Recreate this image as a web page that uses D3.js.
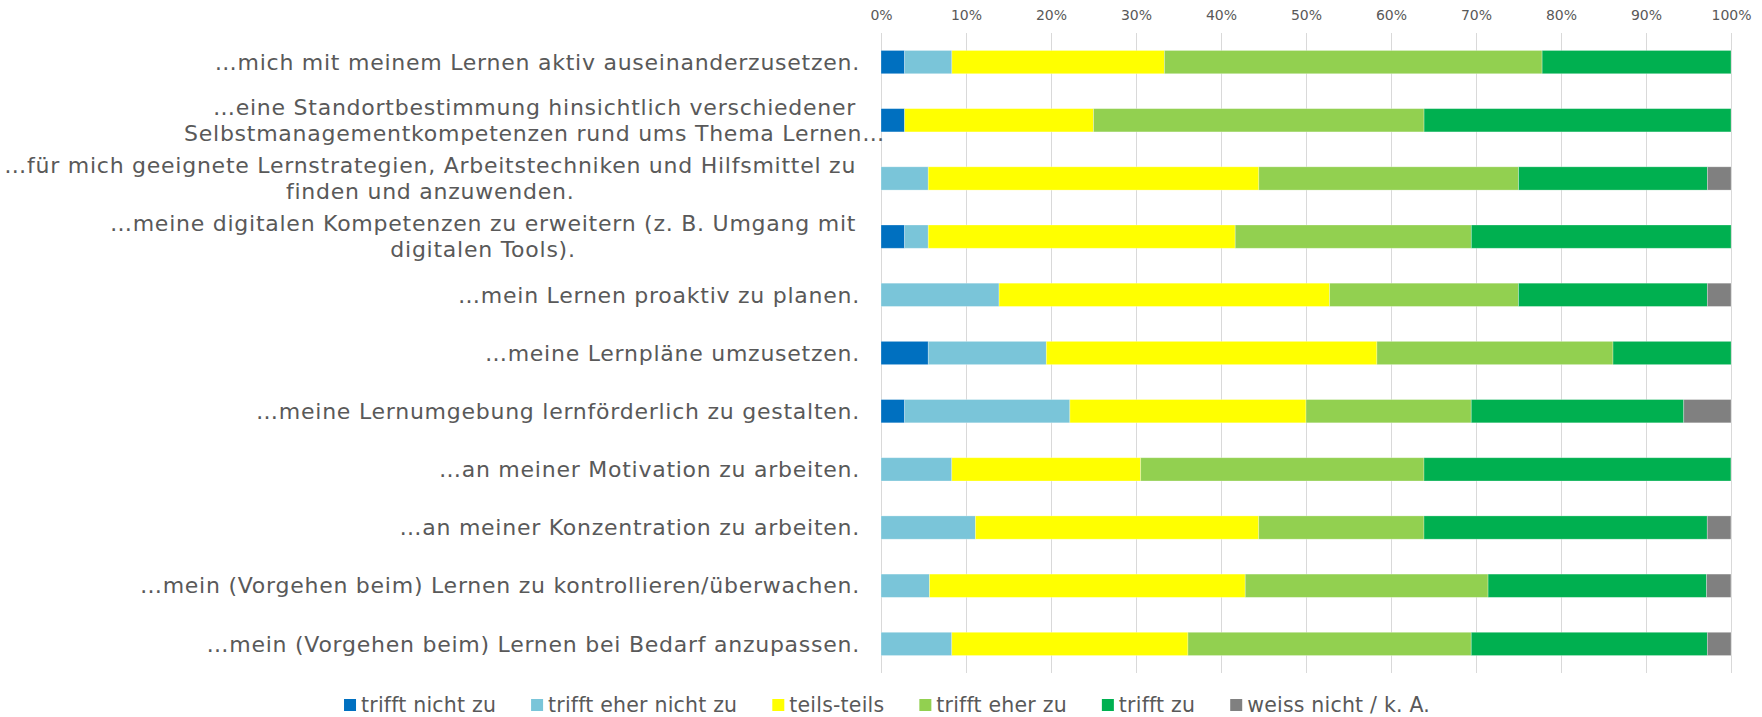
<!DOCTYPE html>
<html><head><meta charset="utf-8">
<script src="https://cdn.jsdelivr.net/npm/d3@7"></script>
<style>
html,body{margin:0;padding:0;background:#fff;}
svg{display:block;font-family:"DejaVu Sans",Verdana,sans-serif;}
</style></head>
<body>
<svg id="chart" width="1762" height="717"></svg>
<script>
const categories = [
  ["…mich mit meinem Lernen aktiv auseinanderzusetzen."],
  ["…eine Standortbestimmung hinsichtlich verschiedener", "Selbstmanagementkompetenzen rund ums Thema Lernen…"],
  ["…für mich geeignete Lernstrategien, Arbeitstechniken und Hilfsmittel zu", "finden und anzuwenden."],
  ["…meine digitalen Kompetenzen zu erweitern (z. B. Umgang mit", "digitalen Tools)."],
  ["…mein Lernen proaktiv zu planen."],
  ["…meine Lernpläne umzusetzen."],
  ["…meine Lernumgebung lernförderlich zu gestalten."],
  ["…an meiner Motivation zu arbeiten."],
  ["…an meiner Konzentration zu arbeiten."],
  ["…mein (Vorgehen beim) Lernen zu kontrollieren/überwachen."],
  ["…mein (Vorgehen beim) Lernen bei Bedarf anzupassen."]
];
const seriesNames = ["trifft nicht zu", "trifft eher nicht zu", "teils-teils", "trifft eher zu", "trifft zu", "weiss nicht / k. A."];
const seriesColors = ["#0070C0", "#7AC5D9", "#FFFF00", "#92D050", "#00B050", "#808080"];
const trifftNichtZu    = [2.78, 2.78, 0,     2.78,  0,     5.56,  2.78,  0,     0,     0,     0];
const trifftEherNicht  = [5.56, 0,    5.56,  2.78,  13.89, 13.89, 19.44, 8.33,  11.11, 5.71,  8.33];
const teilsTeils       = [25.0, 22.22,38.89, 36.11, 38.89, 38.89, 27.78, 22.22, 33.33, 37.14, 27.78];
const trifftEherZu     = [44.44,38.89,30.56, 27.78, 22.22, 27.78, 19.44, 33.33, 19.44, 28.57, 33.33];
const trifftZu         = [22.22,36.11,22.22, 30.56, 22.22, 13.89, 25.0,  36.11, 33.33, 25.71, 27.78];
const weissNicht       = [0,    0,    2.78,  0,     2.78,  0,     5.56,  0,     2.78,  2.86,  2.78];
const tickValues = [0,10,20,30,40,50,60,70,80,90,100];

const seriesValues = [trifftNichtZu, trifftEherNicht, teilsTeils, trifftEherZu, trifftZu, weissNicht];
const rows = categories.map((c, i) => {
  const r = {idx: i};
  seriesNames.forEach((s, j) => r[s] = seriesValues[j][i]);
  return r;
});

const svg = d3.select("#chart");
const pLeft = 881, pRight = 1731, pTop = 33, pBottom = 673;
const x = d3.scaleLinear().domain([0, 100]).range([pLeft, pRight]);
const y = d3.scaleBand().domain(d3.range(categories.length)).range([pTop, pBottom]).paddingInner(0.6).paddingOuter(0.3);
const txt = "#595959";

// gridlines
svg.append("g").selectAll("line").data(tickValues).join("line")
  .attr("x1", d => x(d) + 0.5).attr("x2", d => x(d) + 0.5)
  .attr("y1", pTop).attr("y2", pBottom)
  .attr("stroke", "#d9d9d9").attr("stroke-width", 1);

// top axis labels
const ax = svg.append("g").attr("transform", `translate(0,${pTop})`)
  .call(d3.axisTop(x).tickValues(tickValues).tickFormat(d => d + "%").tickSize(0).tickPadding(13));
ax.select(".domain").remove();
ax.selectAll("text").attr("fill", txt).style("font-size", "14px").style("font-family", '"DejaVu Sans",Verdana,sans-serif');

// bars
const stack = d3.stack().keys(seriesNames)(rows);
svg.append("g").selectAll("g").data(stack).join("g")
  .attr("fill", (d, i) => seriesColors[i])
  .selectAll("rect").data(d => d).join("rect")
  .attr("x", d => x(d[0]))
  .attr("width", d => Math.max(0, x(d[1]) - x(d[0])))
  .attr("y", d => y(d.data.idx))
  .attr("height", y.bandwidth())
  .attr("stroke", "#ffffff").attr("stroke-opacity", 0.35).attr("stroke-width", 0.8);

// category labels
const labelRight = 860, lineH = 26, labelSize = 22;
const lg = svg.append("g").style("font-size", labelSize + "px").style("letter-spacing", "0.75px").attr("fill", txt);
categories.forEach((lines, i) => {
  const cy = y(i) + y.bandwidth() / 2;
  if (lines.length === 1) {
    lg.append("text").attr("x", labelRight).attr("y", cy).attr("dy", "0.35em")
      .attr("text-anchor", "end").text(lines[0]);
  } else {
    const t = lg.append("text").text(lines[0] + "\u00a0");
    const w = t.node().getComputedTextLength();
    t.remove();
    const cx = labelRight - w / 2;
    lines.forEach((l, k) => {
      lg.append("text").attr("x", cx).attr("y", cy + (k - (lines.length - 1) / 2) * lineH)
        .attr("dy", "0.35em").attr("text-anchor", "middle").text(l);
    });
  }
});

// legend
const legSize = 20.5, sq = 12, gapTxt = 5, gapItem = 35, legY = 705;
const leg = svg.append("g").style("font-size", legSize + "px").style("letter-spacing", "0.2px").attr("fill", txt);
const items = seriesNames.map((s, i) => {
  const g = leg.append("g");
  g.append("rect").attr("width", sq).attr("height", sq).attr("y", -sq / 2).attr("fill", seriesColors[i]);
  const t = g.append("text").attr("x", sq + gapTxt).attr("dy", "0.35em").text(s);
  return {g, w: sq + gapTxt + t.node().getComputedTextLength()};
});
const totalW = d3.sum(items, d => d.w) + gapItem * (items.length - 1);
let lx = 887 - totalW / 2;
items.forEach(it => { it.g.attr("transform", `translate(${lx},${legY})`); lx += it.w + gapItem; });
</script>
</body></html>
